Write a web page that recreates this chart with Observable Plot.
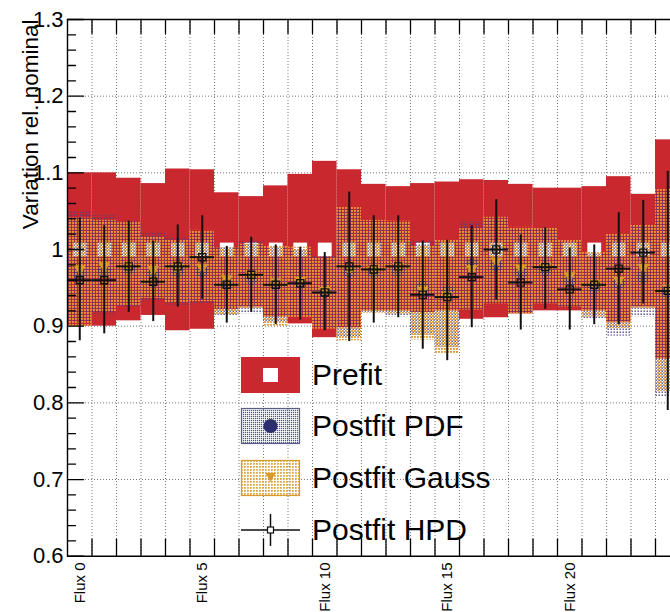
<!DOCTYPE html>
<html><head><meta charset="utf-8">
<script src="https://cdn.jsdelivr.net/npm/d3@7"></script>
<script src="https://cdn.jsdelivr.net/npm/@observablehq/plot@0.6"></script>
<style>
html,body{margin:0;padding:0;background:#fff;overflow:hidden;}
#wrap{position:relative;width:670px;height:612px;overflow:hidden;font-family:"Liberation Sans",Arial,Helvetica,sans-serif;}
#legend{position:absolute;left:241px;top:357px;width:400px;height:200px;}
.row{position:absolute;left:0;height:36px;display:flex;align-items:center;white-space:nowrap;}
.row svg{display:block;overflow:visible;}
.row span{font-size:30px;margin-left:12px;color:#000;line-height:36px;}
</style></head><body><div id="wrap"></div>
<script>
// ---- data (one value per flux bin, 0..24) ----
const bins = [0,1,2,3,4,5,6,7,8,9,10,11,12,13,14,15,16,17,18,19,20,21,22,23,24];
const prefitHi = [1.100,1.100,1.093,1.086,1.105,1.104,1.074,1.069,1.083,1.098,1.115,1.104,1.085,1.082,1.086,1.088,1.091,1.090,1.085,1.080,1.080,1.082,1.095,1.072,1.143];
const prefitLo = [0.900,0.900,0.907,0.914,0.894,0.896,0.922,0.925,0.912,0.903,0.885,0.898,0.920,0.920,0.918,0.920,0.909,0.911,0.916,0.920,0.920,0.920,0.905,0.925,0.857];
const prefitC  = [1,1,1,1,1,1,1,1,1,1,1,1,1,1,1,1,1,1,1,1,1,1,1,1,1];
const pdfHi    = [1.049,1.044,1.036,1.021,1.016,1.023,1.004,1.010,1.002,1.000,0.991,1.052,1.036,1.035,1.011,1.010,1.036,1.040,1.027,1.026,1.010,0.994,1.018,1.030,1.075];
const pdfLo    = [0.905,0.915,0.925,0.932,0.927,0.929,0.914,0.916,0.905,0.913,0.898,0.885,0.918,0.912,0.888,0.872,0.922,0.930,0.917,0.930,0.924,0.909,0.887,0.912,0.807];
const pdfC     = [0.968,0.972,0.975,0.968,0.972,0.972,0.956,0.962,0.955,0.957,0.945,0.971,0.970,0.972,0.951,0.945,0.980,0.980,0.970,0.973,0.960,0.951,0.956,0.964,0.945];
const gaussHi  = [1.041,1.038,1.035,1.017,1.012,1.025,1.002,1.007,1.005,1.003,0.989,1.055,1.038,1.037,1.004,1.012,1.027,1.042,1.029,1.028,1.012,0.996,1.020,1.032,1.079];
const gaussLo  = [0.900,0.918,0.927,0.936,0.930,0.932,0.915,0.922,0.900,0.911,0.896,0.881,0.917,0.916,0.882,0.864,0.921,0.929,0.916,0.929,0.925,0.912,0.897,0.922,0.815];
const gaussC   = [0.975,0.979,0.979,0.974,0.977,0.977,0.962,0.967,0.958,0.960,0.947,0.975,0.974,0.978,0.947,0.940,0.975,0.985,0.976,0.978,0.966,0.956,0.960,0.977,0.950];
const hpdC     = [0.960,0.960,0.978,0.958,0.978,0.990,0.954,0.967,0.954,0.956,0.944,0.978,0.974,0.978,0.941,0.938,0.964,1.000,0.957,0.977,0.948,0.954,0.975,0.996,0.946];
const hpdHi    = [1.041,1.031,1.037,1.011,1.032,1.044,1.004,1.016,1.006,1.003,0.996,1.075,1.044,1.044,1.011,1.012,1.031,1.065,1.019,1.028,1.002,1.006,1.048,1.064,1.102];
const hpdLo    = [0.881,0.890,0.918,0.906,0.925,0.935,0.904,0.918,0.902,0.908,0.894,0.880,0.904,0.911,0.870,0.855,0.898,0.934,0.895,0.922,0.895,0.902,0.902,0.929,0.790];

// ---- axis ticks and labels ----
const fluxLabels = ["Flux 0","Flux 5","Flux 10","Flux 15","Flux 20"];
const fluxLabelBins = [0,5,10,15,20];
const yMajor = [0.6,0.7,0.8,0.9,1.0,1.1,1.2,1.3];
const yTickLabels = ["0.6","0.7","0.8","0.9","1","1.1","1.2","1.3"];
const yGrid = [0.7,0.8,0.9,1.0,1.1,1.2];
const xEdges = [1,2,3,4,5,6,7,8,9,10,11,12,13,14,15,16,17,18,19,20,21,22,23,24];
const yMinor = d3.range(31,65).filter(k => k % 5 !== 0).map(k => k * 0.02);
const yTitle = "Variation rel. nominal";
const legendLabels = ["Prefit","Postfit PDF","Postfit Gauss","Postfit HPD"];

const RED = "#c8282e", NAVY = "#2c2e6e", DOTNAVY = "#4b3c7c", GOLD = "#d99a2b", DOTGOLD = "#e2993a";

const rows = bins.map(i => ({
  bin: i, c: i + 0.5,
  prefitLo: prefitLo[i], prefitHi: prefitHi[i], prefitC: prefitC[i],
  pdfLo: pdfLo[i], pdfHi: pdfHi[i], pdfC: pdfC[i],
  gaussLo: gaussLo[i], gaussHi: gaussHi[i], gaussC: gaussC[i],
  hpdLo: hpdLo[i], hpdHi: hpdHi[i], hpdC: hpdC[i]
}));

const tickShape = {draw(context, l) { context.moveTo(0, 0); context.lineTo(0, -l); }};
const tickStyle = {stroke: "black", strokeWidth: 1.3, anchor: "start", shape: tickShape};
const grid = {stroke: "#777", strokeWidth: 1, strokeDasharray: "1,2"};

const chart = Plot.plot({
  width: 670, height: 612,
  marginLeft: 67, marginRight: 0, marginTop: 19, marginBottom: 56,
  style: {fontFamily: "'Liberation Sans', Arial, Helvetica, sans-serif", background: "white"},
  x: {domain: [0, 25], range: [67, 679.5], axis: null},
  y: {domain: [0.6, 1.3], range: [555.7, 19], axis: null},
  marks: [
    Plot.ruleX(xEdges, {x: d => d, ...grid}),
    Plot.ruleY(yGrid, {y: d => d, ...grid}),
    Plot.rect(rows, {x1: "bin", x2: d => d.bin + 1, y1: "prefitLo", y2: "prefitHi", fill: RED}),
    Plot.dot(rows, {x: "c", y: "prefitC", symbol: "square", r: 7.8, fill: "white", stroke: "none"}),
    Plot.dot(rows, {x: "c", y: "pdfC", r: 6.5, fill: NAVY, fillOpacity: 0.7, stroke: "none"}),
    Plot.rect(rows, {x1: "bin", x2: d => d.bin + 1, y1: "pdfLo", y2: "pdfHi", fill: "url(#pdfPat)"}),
    Plot.rect(rows, {x1: "bin", x2: d => d.bin + 1, y1: "gaussLo", y2: "gaussHi", fill: "url(#gaussPat)"}),
    Plot.dot(rows, {x: "c", y: "gaussC", symbol: "triangle", rotate: 180, r: 4.4, fill: GOLD, stroke: "none"}),
    Plot.ruleX(rows, {x: "c", y1: "hpdLo", y2: "hpdHi", stroke: "#111", strokeWidth: 2}),
    Plot.ruleY(rows, {y: "hpdC", x1: "bin", x2: d => d.bin + 1, stroke: "#111", strokeWidth: 2}),
    Plot.dot(rows, {x: "c", y: "hpdC", symbol: "square", r: 4, stroke: "#111", strokeWidth: 1.3, fill: "none"}),
    // frame
    Plot.ruleY([0.6, 1.3], {y: d => d, stroke: "black", strokeWidth: 1.4}),
    Plot.ruleX([0], {x: d => d, stroke: "black", strokeWidth: 1.4}),
    // ticks (pointing inward)
    Plot.vector(yMajor, {x: () => 0, y: d => d, rotate: 90, length: 16, ...tickStyle}),
    Plot.vector(yMinor, {x: () => 0, y: d => d, rotate: 90, length: 8, ...tickStyle}),
    Plot.vector(xEdges, {x: d => d, y: () => 0.6, rotate: 0, length: 17, ...tickStyle}),
    Plot.vector(xEdges, {x: d => d, y: () => 1.3, rotate: 180, length: 14, ...tickStyle}),
    // labels
    Plot.text(yTickLabels, {y: (d, i) => yMajor[i], text: d => d, frameAnchor: "left", textAnchor: "end", dx: -4, fontSize: 22, fill: "black"}),
    Plot.text(fluxLabels, {x: (d, i) => fluxLabelBins[i] + 0.5, text: d => d, frameAnchor: "bottom", rotate: -90, textAnchor: "end", lineAnchor: "middle", dy: 6, fontSize: 15, fill: "black"}),
    Plot.text([yTitle], {text: d => d, frameAnchor: "top-left", rotate: -90, textAnchor: "end", lineAnchor: "bottom", dx: -30, dy: 0, fontSize: 22.5, fill: "black"})
  ]
});

chart.insertAdjacentHTML("afterbegin", `<defs>
  <pattern id="pdfPat" width="3" height="3" patternUnits="userSpaceOnUse">
    <rect x="1.5" y="1.5" width="1.4" height="1.4" fill="${DOTNAVY}"/>
  </pattern>
  <pattern id="gaussPat" width="3" height="3" patternUnits="userSpaceOnUse">
    <rect x="0" y="0" width="1.9" height="1.9" fill="${DOTGOLD}"/>
  </pattern>
  <pattern id="pdfLeg" width="2" height="2" patternUnits="userSpaceOnUse">
    <rect x="0" y="0" width="1.2" height="1.2" fill="#4e5090"/>
  </pattern>
  <pattern id="gaussLeg" width="3" height="3" patternUnits="userSpaceOnUse">
    <rect x="0" y="0" width="1.8" height="1.8" fill="#e0a845"/>
  </pattern>
</defs>`);

const wrap = document.getElementById("wrap");
wrap.appendChild(chart);

// ---- legend (inside the frame, transparent) ----
const swatches = [
  `<svg width="59" height="36"><rect x="0" y="0" width="59" height="36" fill="${RED}"/><rect x="22" y="11" width="15" height="14" fill="white"/></svg>`,
  `<svg width="59" height="36"><rect x="0.5" y="0.5" width="58" height="35" fill="url(#pdfLeg)" stroke="#5a5c98" stroke-width="1.2"/><circle cx="29.5" cy="18" r="7" fill="${NAVY}"/></svg>`,
  `<svg width="59" height="36"><rect x="0.5" y="0.5" width="58" height="35" fill="url(#gaussLeg)" stroke="${GOLD}" stroke-width="1.2"/><path d="M24.5,13 L34.5,13 L29.5,22 Z" fill="${GOLD}"/></svg>`,
  `<svg width="59" height="36"><line x1="0" y1="18" x2="59" y2="18" stroke="#111" stroke-width="1.5"/><line x1="29.5" y1="2" x2="29.5" y2="34" stroke="#111" stroke-width="1.5"/><rect x="26.5" y="15" width="6" height="6" fill="white" stroke="#111" stroke-width="1.2"/></svg>`
];
const rowTops = [0, 51, 102.5, 155];
const legend = document.createElement("div");
legend.id = "legend";
legend.innerHTML = legendLabels.map((t, i) =>
  `<div class="row" style="top:${rowTops[i]}px">${swatches[i]}<span>${t}</span></div>`).join("");
wrap.appendChild(legend);
</script>
</body></html>
